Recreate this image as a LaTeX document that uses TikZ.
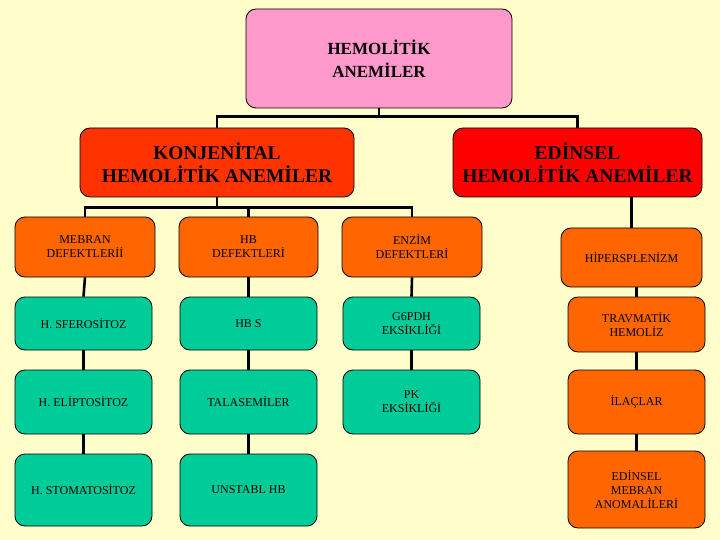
\documentclass[tikz,border=0pt]{standalone}
\usepackage{fontspec}
\setmainfont{Liberation Serif}
\usepackage{tikz}
\usetikzlibrary{calc}
\usepackage{xcolor}
\definecolor{bgyellow}{HTML}{FFFFCC}
\definecolor{rootpink}{HTML}{FF99CC}
\definecolor{konjred}{HTML}{FF3300}
\definecolor{edinred}{HTML}{FF0000}
\definecolor{defectorange}{HTML}{FF6600}
\definecolor{diseasegreen}{HTML}{00CC99}

\begin{document}
\begin{tikzpicture}[x=1pt,y=-1pt]
  \tikzset{treebox/.style={rectangle,rounded corners=10pt,draw=black,line width=0.8pt,align=center,inner sep=2pt,text=black}}
  \tikzset{rootbox/.style={treebox,fill=rootpink,minimum width=266pt,minimum height=99pt,font=\fontsize{17}{23}\selectfont\bfseries}}
  \tikzset{groupbox/.style={treebox,minimum height=69pt,font=\fontsize{19.5}{23}\selectfont\bfseries}}
  \tikzset{defectbox/.style={treebox,fill=defectorange,font=\fontsize{12}{14}\selectfont}}
  \tikzset{diseasebox/.style={treebox,fill=diseasegreen,minimum width=137pt,font=\fontsize{12}{14}\selectfont}}
  \tikzset{treeedge/.style={draw=black,line width=2.6pt}}
  \fill[bgyellow] (0,0) rectangle (720,540);
  \useasboundingbox (0,0) rectangle (720,540);
  \node[rootbox] (root) at (379,58.5) {HEMOLİTİK\\ANEMİLER};
  \node[groupbox,fill=konjred,minimum width=274pt] (konj) at (217,162.5) {KONJENİTAL\\HEMOLİTİK ANEMİLER};
  \node[groupbox,fill=edinred,minimum width=249pt] (edin) at (577.5,162.5) {EDİNSEL\\HEMOLİTİK ANEMİLER};
  \node[defectbox,minimum width=140pt,minimum height=60pt] (mebran) at (85,247) {MEBRAN\\DEFEKTLERİİ};
  \node[defectbox,minimum width=139pt,minimum height=60pt] (hbdef) at (248.5,247) {HB\\DEFEKTLERİ};
  \node[defectbox,minimum width=140pt,minimum height=60pt] (enzim) at (412,247) {ENZİM\\DEFEKTLERİ};
  \node[defectbox,minimum width=141pt,minimum height=59pt] (hiper) at (631.5,257.5) {HİPERSPLENİZM};
  \node[diseasebox,minimum height=53pt] (sfero) at (83.5,323.5) {H. SFEROSİTOZ};
  \node[diseasebox,minimum height=53pt] (hbs) at (248.5,323.5) {HB S};
  \node[diseasebox,minimum height=53pt] (gpd) at (411.5,323.5) {G6PDH\\EKSİKLİĞİ};
  \node[defectbox,minimum width=137pt,minimum height=55pt] (travma) at (636.5,324.5) {TRAVMATİK\\HEMOLİZ};
  \node[diseasebox,minimum height=64pt] (elipto) at (83.5,402) {H. ELİPTOSİTOZ};
  \node[diseasebox,minimum height=64pt] (talas) at (248.5,402) {TALASEMİLER};
  \node[diseasebox,minimum height=64pt] (pk) at (411.5,402) {PK\\EKSİKLİĞİ};
  \node[defectbox,minimum width=137pt,minimum height=64pt] (ilac) at (636.5,402) {İLAÇLAR};
  \node[diseasebox,minimum height=72pt] (stoma) at (83.5,490) {H. STOMATOSİTOZ};
  \node[diseasebox,minimum height=72pt] (unstabl) at (248.5,490) {UNSTABL HB};
  \node[defectbox,minimum width=137pt,minimum height=77pt] (edmeb) at (636.5,489.5) {EDİNSEL\\MEBRAN\\ANOMALİLERİ};
  \draw[treeedge] (root.south) -- ++(0,8) -| (konj.north);
  \draw[treeedge] (root.south) -- ++(0,8) -| (edin.north);
  \draw[treeedge] (konj.south) -- ++(0,10) -| (mebran.north);
  \draw[treeedge] (konj.south) -- ++(0,10) -| (hbdef.north);
  \draw[treeedge] (konj.south) -- ++(0,10) -| (enzim.north);
  \draw[treeedge] (hiper.north) -- (hiper.north |- edin.south);
  \draw[treeedge] (mebran.south) -- (sfero.north);
  \draw[treeedge] (sfero.south) -- (elipto.north);
  \draw[treeedge] (elipto.south) -- (stoma.north);
  \draw[treeedge] (hbdef.south) -- (hbs.north);
  \draw[treeedge] (hbs.south) -- (talas.north);
  \draw[treeedge] (talas.south) -- (unstabl.north);
  \draw[treeedge] (enzim.south) -- (gpd.north);
  \draw[treeedge] (gpd.south) -- (pk.north);
  \draw[treeedge] (travma.north) -- (travma.north |- hiper.south);
  \draw[treeedge] (travma.south) -- (ilac.north);
  \draw[treeedge] (ilac.south) -- (edmeb.north);
\end{tikzpicture}
\end{document}
